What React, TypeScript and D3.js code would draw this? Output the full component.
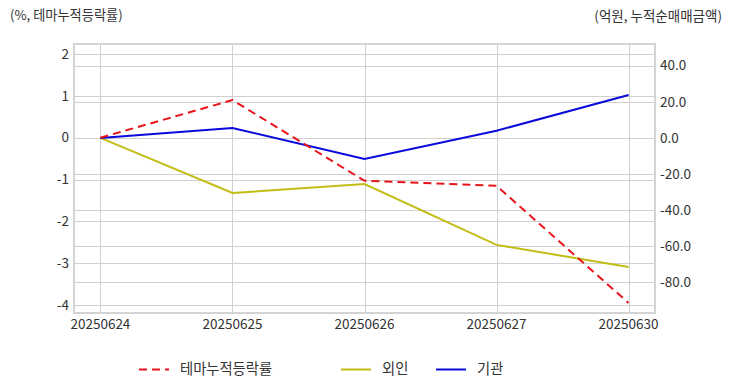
import { useEffect, useRef } from 'react';
import * as d3 from 'd3';

const dates = ['20250624', '20250625', '20250626', '20250627', '20250630'];
const themeReturn = [0, 0.9, -1.03, -1.15, -3.95];
const foreignNet = [0, -30.5, -25.5, -59.2, -71.4];
const institutionNet = [0, 5.5, -11.6, 4.0, 23.8];
const leftTicks = [2, 1, 0, -1, -2, -3, -4];
const rightTicks = [40, 20, 0, -20, -40, -60, -80];

const legendItems = [
  { label: '테마누적등락률', color: '#e8141b', dash: '8,5', x: 139 },
  { label: '외인', color: '#c2bd16', dash: '', x: 341 },
  { label: '기관', color: '#0a0adc', dash: '', x: 436 },
];

const W = 732;
const H = 392;
const FONT = '"Noto Sans CJK KR", "Noto Sans", sans-serif';

const App = () => {
  const ref = useRef<SVGSVGElement | null>(null);

  useEffect(() => {
    if (!ref.current) return;
    const svg = d3.select(ref.current);
    svg.selectAll('*').remove();

    const plot = { left: 74, right: 655, top: 44, bottom: 313 };

    const x = d3.scalePoint().domain(dates).range([plot.left, plot.right]).padding(0.2);
    const yL = d3.scaleLinear().domain([-4.19, 2.24]).range([plot.bottom, plot.top]);
    const yR = d3.scaleLinear().domain([-96.9, 52]).range([plot.bottom, plot.top]);

    const grid = svg.append('g').attr('stroke', '#d0d0d0').attr('stroke-width', 1);
    leftTicks.forEach((t) => {
      grid.append('line').attr('x1', plot.left).attr('x2', plot.right)
        .attr('y1', Math.round(yL(t)) + 0.5).attr('y2', Math.round(yL(t)) + 0.5);
    });
    rightTicks.forEach((t) => {
      grid.append('line').attr('x1', plot.left).attr('x2', plot.right)
        .attr('y1', Math.round(yR(t)) + 0.5).attr('y2', Math.round(yR(t)) + 0.5);
    });
    dates.forEach((d) => {
      const px = Math.round(x(d) ?? 0) + 0.5;
      grid.append('line').attr('x1', px).attr('x2', px).attr('y1', plot.top).attr('y2', plot.bottom);
    });

    svg.append('rect')
      .attr('x', plot.left).attr('y', plot.top)
      .attr('width', plot.right - plot.left).attr('height', plot.bottom - plot.top)
      .attr('fill', 'none').attr('stroke', '#d4d4d4').attr('stroke-width', 2);

    const text = svg.append('g').attr('font-family', FONT).attr('fill', '#333');

    leftTicks.forEach((t) => {
      text.append('text').attr('x', 69).attr('y', yL(t)).attr('dy', '0.35em')
        .attr('text-anchor', 'end').attr('font-size', 13.5).text(String(t));
    });
    rightTicks.forEach((t) => {
      text.append('text').attr('x', 660).attr('y', yR(t)).attr('dy', '0.35em')
        .attr('text-anchor', 'start').attr('font-size', 13.5).text(t.toFixed(1));
    });
    dates.forEach((d) => {
      text.append('text').attr('x', x(d) ?? 0).attr('y', 329)
        .attr('text-anchor', 'middle').attr('font-size', 13.5).text(d);
    });

    text.append('text').attr('x', 10).attr('y', 20).attr('font-size', 13.2).text('(%, 테마누적등락률)');
    text.append('text').attr('x', 722).attr('y', 21).attr('text-anchor', 'end')
      .attr('font-size', 13.5).text('(억원, 누적순매매금액)');

    const lineL = d3.line<number>().x((_, i) => x(dates[i]) ?? 0).y((v) => yL(v));
    const lineR = d3.line<number>().x((_, i) => x(dates[i]) ?? 0).y((v) => yR(v));

    svg.append('path').datum(foreignNet).attr('d', lineR)
      .attr('fill', 'none').attr('stroke', legendItems[1].color).attr('stroke-width', 2);
    svg.append('path').datum(institutionNet).attr('d', lineR)
      .attr('fill', 'none').attr('stroke', legendItems[2].color).attr('stroke-width', 2);
    svg.append('path').datum(themeReturn).attr('d', lineL)
      .attr('fill', 'none').attr('stroke', legendItems[0].color).attr('stroke-width', 2)
      .attr('stroke-dasharray', legendItems[0].dash);

    const legend = svg.append('g').attr('font-family', FONT);
    legendItems.forEach((item) => {
      legend.append('line').attr('x1', item.x).attr('x2', item.x + 30)
        .attr('y1', 369.5).attr('y2', 369.5)
        .attr('stroke', item.color).attr('stroke-width', 2)
        .attr('stroke-dasharray', item.dash);
      legend.append('text').attr('x', item.x + 41).attr('y', 369).attr('dy', '0.35em')
        .attr('font-size', 14.3).attr('fill', '#333').text(item.label);
    });
  }, []);

  return (
    <div style={{ position: 'absolute', left: 0, top: 0 }}>
      <svg ref={ref} width={W} height={H} style={{ display: 'block', background: '#fff' }} />
    </div>
  );
};

export default App;
